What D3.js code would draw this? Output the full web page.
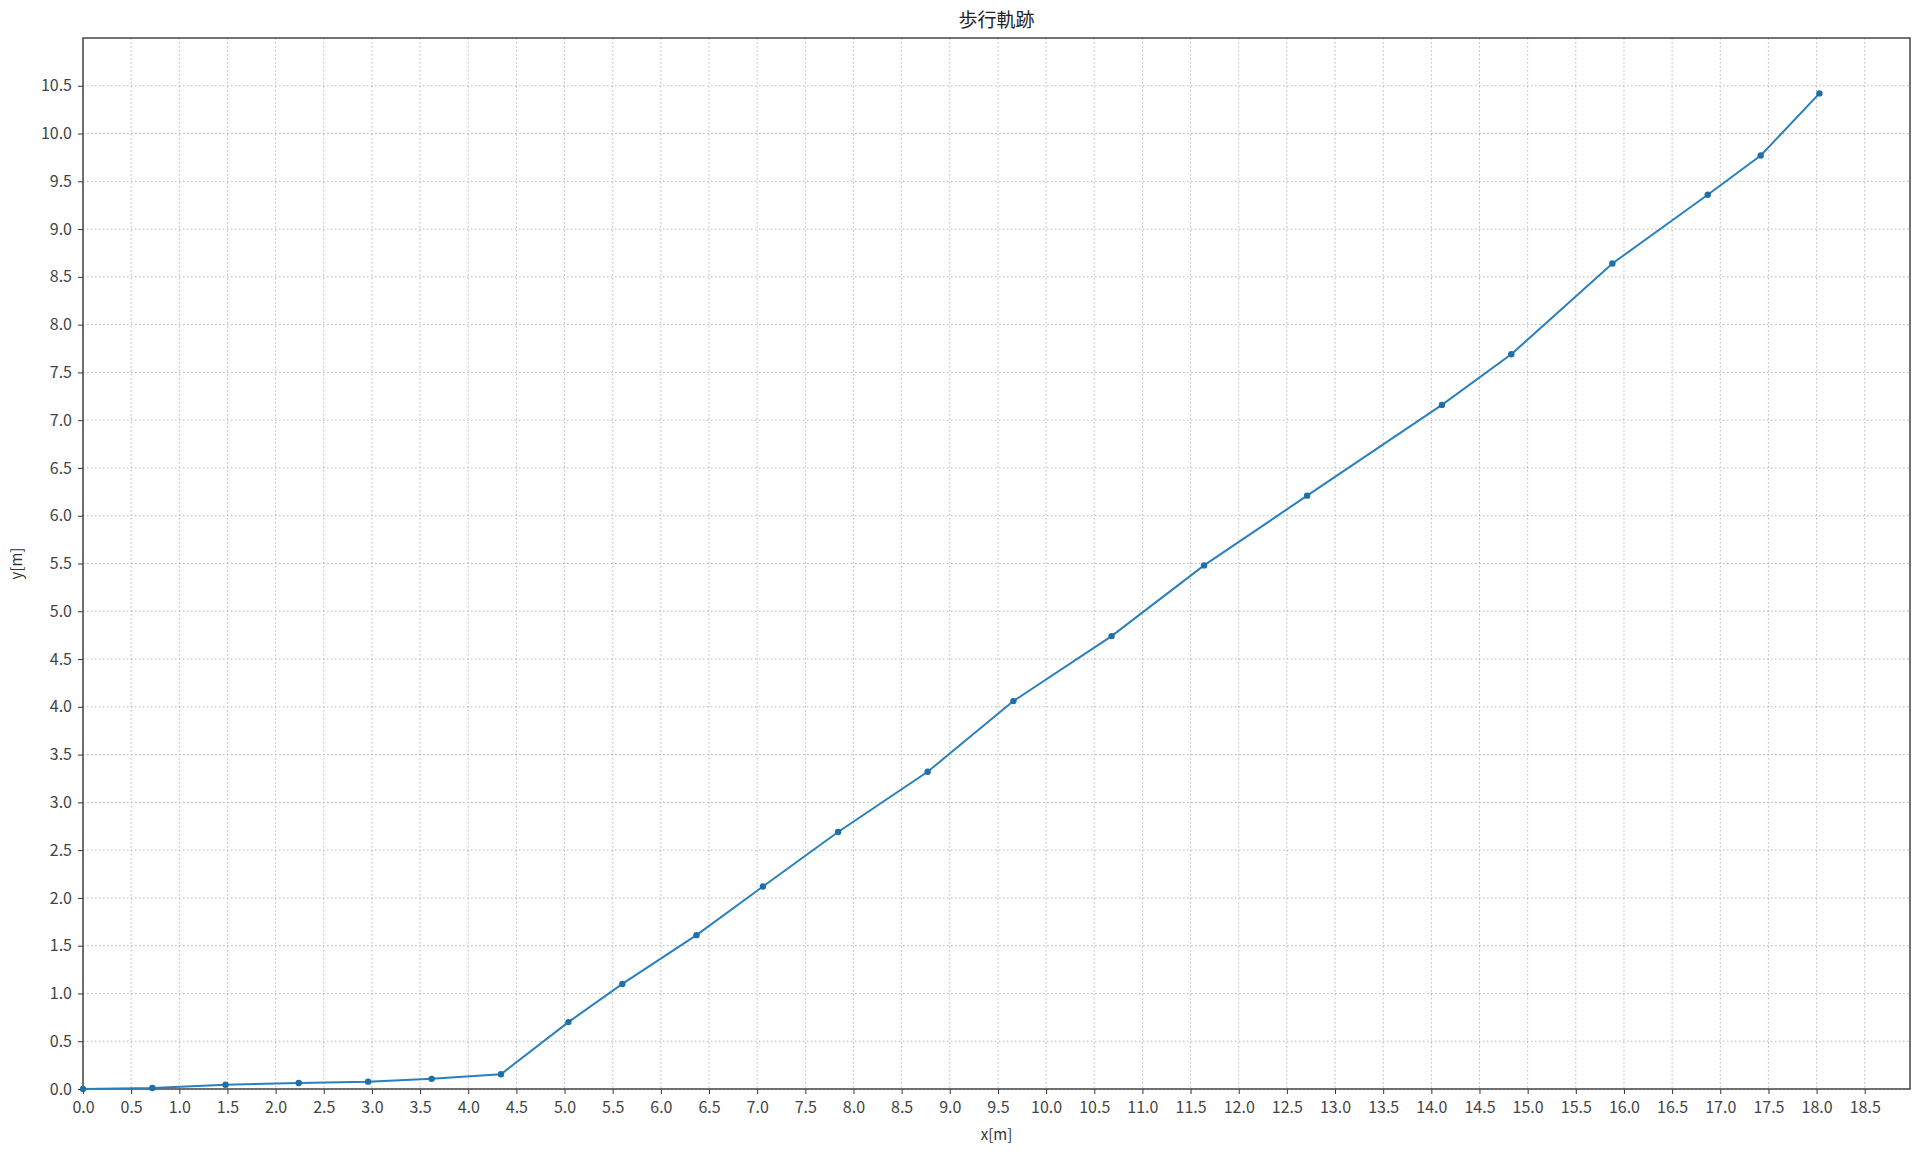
<!DOCTYPE html>
<html>
<head>
<meta charset="utf-8">
<script src="https://cdn.jsdelivr.net/npm/d3@7"></script>
<style>
  body { margin: 0; background: #fff; }
  text { font-family: "Noto Sans CJK JP", "Noto Sans", sans-serif; }
</style>
</head>
<body>
<div id="chart"></div>
<script>
// walking trajectory points
var xValues = [0, 0.72, 1.48, 2.24, 2.96, 3.62, 4.34, 5.04, 5.60, 6.37, 7.06, 7.84,
               8.77, 9.66, 10.68, 11.64, 12.71, 14.11, 14.83, 15.88, 16.87, 17.42, 18.03];
var yValues = [0, 0.01, 0.045, 0.063, 0.077, 0.106, 0.155, 0.70, 1.10, 1.61, 2.12, 2.69,
               3.32, 4.06, 4.74, 5.48, 6.21, 7.16, 7.69, 8.64, 9.36, 9.77, 10.42];
var xTicks = d3.range(0, 18.51, 0.5);
var yTicks = d3.range(0, 10.51, 0.5);
var titleText = "歩行軌跡";
var xLabel = "x[m]";
var yLabel = "y[m]";

var margin = {top: 38, right: 10, bottom: 63, left: 83},
    width = 1920 - margin.left - margin.right,
    height = 1152 - margin.top - margin.bottom;

var svg = d3.select("#chart").append("svg")
    .attr("width", width + margin.left + margin.right)
    .attr("height", height + margin.top + margin.bottom);

var g = svg.append("g")
    .attr("transform", "translate(" + margin.left + "," + margin.top + ")");

var x = d3.scaleLinear().domain([0, 18.97]).range([0, width]);
var y = d3.scaleLinear().domain([0, 11.0]).range([height, 0]);

var points = xValues.map(function(d, i) { return [d, yValues[i]]; });

// dotted grid
g.append("g").selectAll("line.vg")
    .data(xTicks).enter().append("line")
    .attr("x1", function(d) { return x(d); })
    .attr("x2", function(d) { return x(d); })
    .attr("y1", 0).attr("y2", height)
    .attr("stroke", "#b8b8b8").attr("stroke-width", 1)
    .attr("stroke-dasharray", "1.5,2.5");

g.append("g").selectAll("line.hg")
    .data(yTicks).enter().append("line")
    .attr("y1", function(d) { return y(d); })
    .attr("y2", function(d) { return y(d); })
    .attr("x1", 0).attr("x2", width)
    .attr("stroke", "#b8b8b8").attr("stroke-width", 1)
    .attr("stroke-dasharray", "1.5,2.5");

// axes
var xAxis = g.append("g")
    .attr("transform", "translate(0," + height + ")")
    .call(d3.axisBottom(x).tickValues(xTicks).tickFormat(d3.format(".1f"))
        .tickSize(5).tickPadding(8).tickSizeOuter(0));
var yAxis = g.append("g")
    .call(d3.axisLeft(y).tickValues(yTicks).tickFormat(d3.format(".1f"))
        .tickSize(5).tickPadding(6).tickSizeOuter(0));

[xAxis, yAxis].forEach(function(a) {
    a.select(".domain").remove();
    a.selectAll(".tick line").attr("stroke", "#333");
    a.selectAll(".tick text")
        .attr("fill", "#444")
        .style("font-size", "16px");
});

// frame
g.append("rect")
    .attr("width", width).attr("height", height)
    .attr("fill", "none").attr("stroke", "#444").attr("stroke-width", 1.5);

// trajectory
var line = d3.line()
    .x(function(d) { return x(d[0]); })
    .y(function(d) { return y(d[1]); });

g.append("path")
    .datum(points)
    .attr("d", line)
    .attr("fill", "none")
    .attr("stroke", "#2a80bd")
    .attr("stroke-width", 2);

g.selectAll("circle.pt")
    .data(points).enter().append("circle")
    .attr("class", "pt")
    .attr("cx", function(d) { return x(d[0]); })
    .attr("cy", function(d) { return y(d[1]); })
    .attr("r", 3.2)
    .attr("fill", "#1f6fa8");

// title and labels
svg.append("text")
    .attr("x", margin.left + width / 2).attr("y", 27)
    .attr("text-anchor", "middle")
    .style("font-size", "19px")
    .attr("fill", "#222")
    .text(titleText);

svg.append("text")
    .attr("x", margin.left + width / 2).attr("y", 1140)
    .attr("text-anchor", "middle")
    .style("font-size", "15px")
    .attr("fill", "#333")
    .text(xLabel);

svg.append("text")
    .attr("transform", "translate(22," + (margin.top + height / 2) + ") rotate(-90)")
    .attr("text-anchor", "middle")
    .style("font-size", "15px")
    .attr("fill", "#333")
    .text(yLabel);
</script>
</body>
</html>
